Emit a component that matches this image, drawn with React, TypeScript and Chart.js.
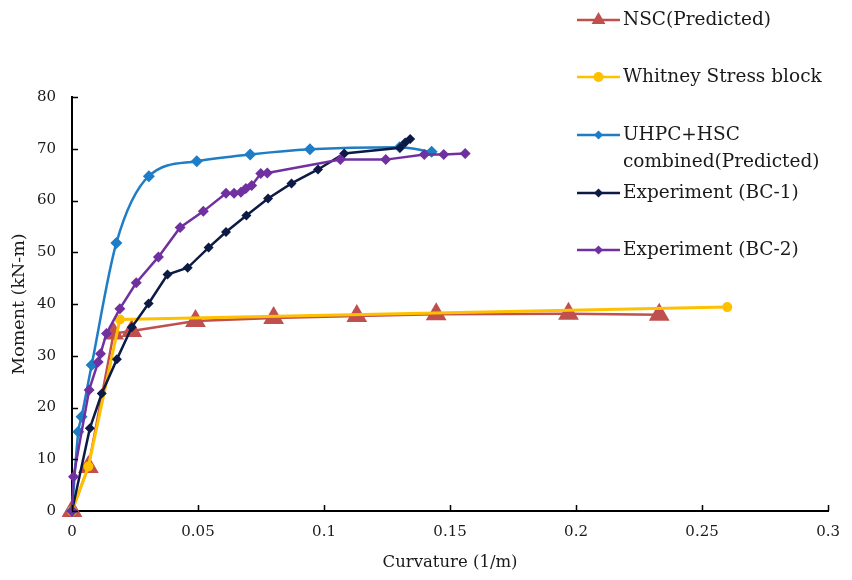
import React, { useEffect, useRef } from 'react';
import { Chart, registerables } from 'chart.js';

Chart.register(...registerables);

// ---- Tick labels ----
const xTickValues = [0, 0.05, 0.1, 0.15, 0.2, 0.25, 0.3];
const yTickValues = [0, 10, 20, 30, 40, 50, 60, 70, 80];

// ---- Series names ----
const seriesNames = [
  'NSC(Predicted)',
  'Whitney Stress block',
  'UHPC+HSC\ncombined(Predicted)',
  'Experiment (BC-1)',
  'Experiment (BC-2)',
];

// ---- NSC (Predicted) ----
const nscCurvature = [0, 0.0065, 0.0165, 0.0237, 0.049, 0.08, 0.113, 0.1445, 0.197, 0.233];
const nscMoment = [0, 8.5, 34.3, 34.8, 36.7, 37.3, 37.7, 38.0, 38.1, 37.9];

// ---- Whitney Stress block ----
const whitneyCurvature = [0, 0.0065, 0.019, 0.26];
const whitneyMoment = [0, 8.6, 37.0, 39.4];

// ---- UHPC+HSC combined (Predicted) ----
const uhpcCurvature = [0, 0.0025, 0.0038, 0.0078, 0.0176, 0.0305, 0.0495, 0.0707, 0.0944, 0.13, 0.1427];
const uhpcMoment = [0, 15.3, 18.2, 28.2, 51.8, 64.7, 67.6, 68.9, 69.9, 70.3, 69.4];

// ---- Experiment (BC-1) ----
const bc1Curvature = [0, 0.0071, 0.0118, 0.0178, 0.0237, 0.0304, 0.0379, 0.0459, 0.0542, 0.0611, 0.0692, 0.0778, 0.0871, 0.0976, 0.108, 0.1302, 0.1322, 0.1342];
const bc1Moment = [0, 16.0, 22.7, 29.3, 35.5, 40.1, 45.7, 47.0, 50.9, 53.9, 57.1, 60.4, 63.3, 66.0, 69.1, 70.2, 71.2, 71.9];

// ---- Experiment (BC-2) ----
const bc2Curvature = [0, 0.0006, 0.0068, 0.0104, 0.0113, 0.0137, 0.019, 0.0255, 0.0343, 0.0429, 0.0521, 0.0611, 0.0643, 0.067, 0.069, 0.0713, 0.0749, 0.0775, 0.1065, 0.1245, 0.1398, 0.1475, 0.156];
const bc2Moment = [0, 6.6, 23.4, 28.8, 30.4, 34.3, 39.1, 44.1, 49.1, 54.8, 57.9, 61.4, 61.4, 61.6, 62.3, 62.9, 65.2, 65.3, 67.9, 67.9, 68.9, 68.9, 69.1];

const colors = ['#C0504D', '#FFC000', '#1E7DC4', '#0D1A45', '#7030A0'];
const markers = ['triangle', 'circle', 'rectRot', 'rectRot', 'rectRot'];

const toPoints = (xs: number[], ys: number[]) => xs.map((x, i) => ({ x, y: ys[i] }));

const FONT = '"DejaVu Serif", "Liberation Serif", serif';

const inwardTicksPlugin = {
  id: 'inwardTicks',
  afterDraw(chart: any) {
    const { ctx, chartArea, scales } = chart;
    ctx.save();
    ctx.strokeStyle = '#000';
    ctx.lineWidth = 1.5;
    ctx.beginPath();
    scales.x.ticks.forEach((t: any) => {
      const px = Math.round(scales.x.getPixelForValue(t.value)) + 0.5;
      ctx.moveTo(px, chartArea.bottom);
      ctx.lineTo(px, chartArea.bottom - 6);
    });
    scales.y.ticks.forEach((t: any) => {
      const py = Math.round(scales.y.getPixelForValue(t.value)) + 0.5;
      ctx.moveTo(chartArea.left, py);
      ctx.lineTo(chartArea.left + 6, py);
    });
    ctx.stroke();
    ctx.restore();
  },
};

function drawMarker(ctx: CanvasRenderingContext2D, style: string, x: number, y: number, r: number) {
  ctx.beginPath();
  if (style === 'triangle') {
    ctx.moveTo(x, y - r);
    ctx.lineTo(x + r * 0.866, y + r * 0.5);
    ctx.lineTo(x - r * 0.866, y + r * 0.5);
    ctx.closePath();
  } else if (style === 'circle') {
    ctx.arc(x, y, r, 0, Math.PI * 2);
  } else {
    ctx.moveTo(x, y - r);
    ctx.lineTo(x + r, y);
    ctx.lineTo(x, y + r);
    ctx.lineTo(x - r, y);
    ctx.closePath();
  }
  ctx.fill();
}

const legendPlugin = {
  id: 'customLegend',
  afterDraw(chart: any) {
    const { ctx } = chart;
    const rowY = [20, 77, 135, 193, 250];
    const legendR = [8, 5, 4.5, 4.5, 4.5];
    ctx.save();
    ctx.font = `18.5px ${FONT}`;
    ctx.textBaseline = 'middle';
    ctx.textAlign = 'left';
    seriesNames.forEach((name, i) => {
      const y = rowY[i];
      ctx.strokeStyle = colors[i];
      ctx.lineWidth = 2.5;
      ctx.beginPath();
      ctx.moveTo(577, y);
      ctx.lineTo(620, y);
      ctx.stroke();
      ctx.fillStyle = colors[i];
      drawMarker(ctx, markers[i], 598.5, y, legendR[i]);
      ctx.fillStyle = '#1a1a1a';
      name.split('\n').forEach((line, j) => {
        ctx.fillText(line, 623, y + j * 27);
      });
    });
    ctx.restore();
  },
};

export default function App() {
  const canvasRef = useRef<HTMLCanvasElement | null>(null);

  useEffect(() => {
    document.body.style.margin = '0';
    const canvas = canvasRef.current;
    if (!canvas) return;
    const pointRadius = [12, 5, 6, 5, 5.5];
    const datasets = [
      toPoints(nscCurvature, nscMoment),
      toPoints(whitneyCurvature, whitneyMoment),
      toPoints(uhpcCurvature, uhpcMoment),
      toPoints(bc1Curvature, bc1Moment),
      toPoints(bc2Curvature, bc2Moment),
    ].map((data, i) => ({
      label: seriesNames[i].replace('\n', ' '),
      data,
      borderColor: colors[i],
      backgroundColor: colors[i],
      pointBackgroundColor: colors[i],
      pointBorderColor: colors[i],
      pointBorderWidth: 0,
      pointStyle: markers[i],
      pointRadius: pointRadius[i],
      borderWidth: i === 1 ? 3 : 2.5,
      tension: i === 2 ? 0.4 : 0,
      cubicInterpolationMode: i === 2 ? 'monotone' : 'default',
      showLine: true,
      fill: false,
      order: 5 - i,
      clip: false,
    }));

    const chart = new Chart(canvas, {
      type: 'scatter',
      data: { datasets } as any,
      options: {
        animation: false,
        responsive: false,
        maintainAspectRatio: false,
        layout: { padding: { top: 97, right: 20, left: 0, bottom: 0 } },
        plugins: {
          legend: { display: false },
          tooltip: { enabled: false },
        },
        scales: {
          x: {
            type: 'linear',
            min: 0,
            max: 0.3,
            afterBuildTicks: (scale: any) => {
              scale.ticks = xTickValues.map((v) => ({ value: v }));
            },
            afterFit: (scale: any) => {
              scale.height = 69;
            },
            grid: { display: true, drawOnChartArea: false, drawTicks: false },
            border: { display: true, color: '#000', width: 2 },
            ticks: {
              padding: 12,
              color: '#1a1a1a',
              font: { family: FONT, size: 15 },
              callback: (v: any) => String(parseFloat(Number(v).toFixed(2))),
            },
            title: {
              display: true,
              text: 'Curvature (1/m)',
              color: '#1a1a1a',
              font: { family: FONT, size: 16.5 },
              padding: { top: 0, bottom: 7 },
            },
          },
          y: {
            type: 'linear',
            min: 0,
            max: 80,
            afterBuildTicks: (scale: any) => {
              scale.ticks = yTickValues.map((v) => ({ value: v }));
            },
            afterFit: (scale: any) => {
              scale.width = 72;
            },
            grid: { display: true, drawOnChartArea: false, drawTicks: false },
            border: { display: true, color: '#000', width: 2 },
            ticks: {
              padding: 16,
              color: '#1a1a1a',
              font: { family: FONT, size: 15 },
            },
            title: {
              display: true,
              text: 'Moment (kN-m)',
              color: '#1a1a1a',
              font: { family: FONT, size: 17.5 },
              padding: { top: 9, bottom: 0 },
            },
          },
        },
      },
      plugins: [inwardTicksPlugin, legendPlugin],
    } as any);

    return () => {
      chart.destroy();
    };
  }, []);

  return (
    <div style={{ position: 'fixed', left: 0, top: 0, width: 852, height: 580, background: '#fff' }}>
      <canvas ref={canvasRef} width={852} height={580} style={{ width: 852, height: 580 }} />
    </div>
  );
}
